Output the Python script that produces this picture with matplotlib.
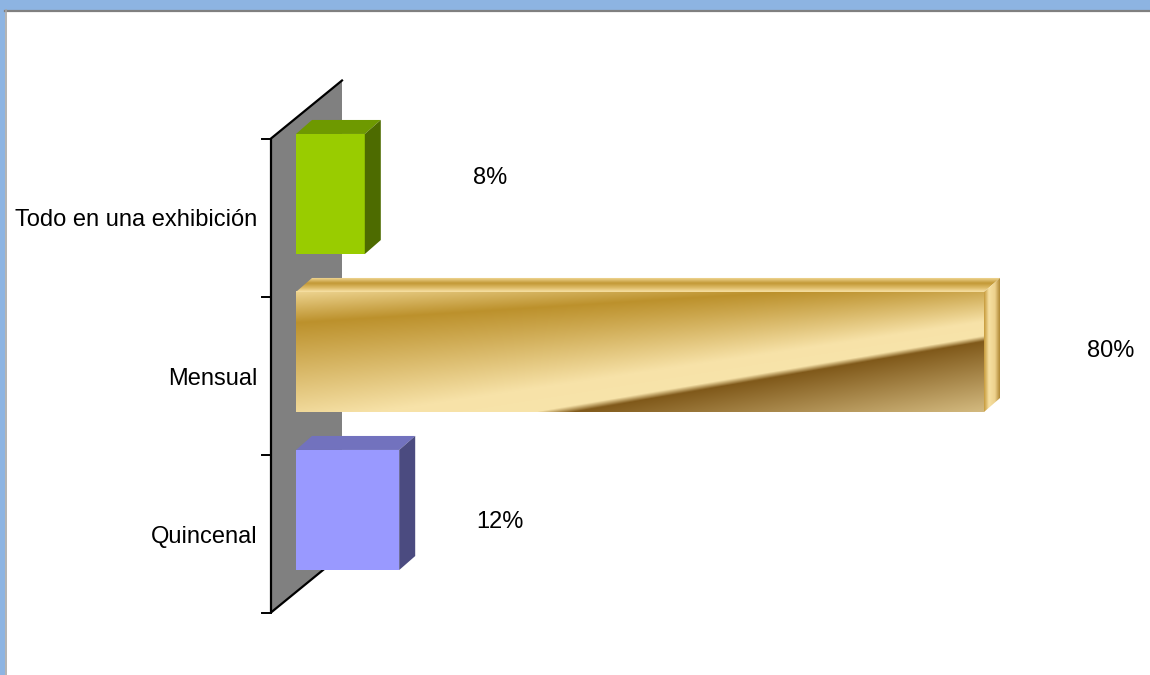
import matplotlib
matplotlib.use("Agg")
import matplotlib.pyplot as plt
import numpy as np
from matplotlib.patches import Polygon, Rectangle
from matplotlib.lines import Line2D
from matplotlib.colors import to_rgb

categories = ["Todo en una exhibición", "Mensual", "Quincenal"]
values = [8, 80, 12]
value_labels = ["8%", "80%", "12%"]

# faces: front, top, side ("gold" is drawn as a metallic texture)
bar_styles = [("#99CC00", "#6E9900", "#4D6B00"),
              "gold",
              ("#9999FF", "#7272BE", "#4B4B80")]

W, H = 1150, 675
PX_X = 8.6       # pixels per percent
PX_Y = 158.0     # pixels per category slot
X0_PX = 271      # front edge of the wall
Y0_PX = 217.5    # centre of first row on the front plane
BAR_H = 0.76
FONT = "Liberation Sans"
FSIZE = 17

# label offsets from the bar end, in pixels (right, up)
label_nudge = [(150, 39), (152, 24.5), (126, 12)]
CAT_DROP = 3     # category labels sit a little below the row centre

fig = plt.figure(figsize=(W / 100, H / 100), dpi=100)
ax = fig.add_axes([0, 0, 1, 1])
ax.set_xlim(-X0_PX / PX_X, (W - X0_PX) / PX_X)
ax.set_ylim((H - Y0_PX) / PX_Y, -Y0_PX / PX_Y)
ax.axis("off")


def px(dx, dy):
    # pixel offset (right, up) -> data offset
    return dx / PX_X, -dy / PX_Y


# window frame
fig.patches.append(Rectangle((0, 1 - 9.5 / H), 1, 9.5 / H, transform=fig.transFigure,
                             facecolor="#8DB4E2", edgecolor="none", zorder=10))
fig.patches.append(Rectangle((0, 0), 5 / W, 1, transform=fig.transFigure,
                             facecolor="#8DB4E2", edgecolor="none", zorder=10))
fig.lines.append(Line2D([5 / W, 1], [1 - 10.5 / H, 1 - 10.5 / H], transform=fig.transFigure,
                        color="#808080", lw=1.6, zorder=11))
fig.lines.append(Line2D([6 / W, 6 / W], [0, 1 - 10 / H], transform=fig.transFigure,
                        color="#A6A6A6", lw=1.2, zorder=11))

# back wall
n = len(categories)
wx, wy = px(71, 58)
y_top, y_bot = -0.5, n - 0.5
ax.add_patch(Polygon([(0, y_top), (wx, y_top + wy), (wx, y_bot + wy), (0, y_bot)],
                     closed=True, facecolor="#808080", edgecolor="none", zorder=1))
ax.plot([wx, 0, 0, wx], [y_top + wy, y_top, y_bot, y_bot + wy], color="black",
        lw=1.6, zorder=2, solid_joinstyle="miter")
tick = 9 / PX_X
for k in range(n + 1):
    ax.plot([-tick, 0], [k - 0.5, k - 0.5], color="black", lw=1.4, zorder=2)


def ramp(stops, t):
    pos = [s[0] for s in stops]
    cols = np.array([to_rgb(s[1]) for s in stops])
    return np.stack([np.interp(t, pos, cols[:, c]) for c in range(3)], axis=-1)


def gold_front(nx=700, ny=130):
    # each stop moves linearly from its left-edge to its right-edge height
    stops = [(-0.05, -0.40, "#F7E1A4"),
             (0.26, -0.10, "#BC912C"),
             (1.10, 0.25, "#F7E2A8"),
             (1.34, 0.37, "#F8E4AA"),
             (1.40, 0.415, "#80591A"),
             (2.03, 1.06, "#DCC48A")]
    cols = np.array([to_rgb(s[2]) for s in stops])
    t = np.linspace(0, 1, ny)
    img = np.zeros((ny, nx, 3))
    for j, u in enumerate(np.linspace(0, 1, nx)):
        pos = [a + (b - a) * u for a, b, _ in stops]
        for c in range(3):
            img[:, j, c] = np.interp(t, pos, cols[:, c])
    return img


fx, fy = px(25, 23.5)
bx, by = px(41, 37.5)

for i, (v, style) in enumerate(zip(values, bar_styles)):
    x0, x1 = fx, v + fx
    yt, yb = i - BAR_H / 2 + fy, i + BAR_H / 2 + fy
    top = [(x0, yt), (x1, yt), (v + bx, yt + by - fy), (bx, yt + by - fy)]
    side = [(x1, yt), (v + bx, yt + by - fy), (v + bx, yb + by - fy), (x1, yb)]
    if style == "gold":
        ax.imshow(gold_front(), extent=(x0, x1, yb, yt), origin="upper",
                  aspect="auto", interpolation="bilinear", zorder=3)
        for poly, img, ext in [
            (top, ramp([(0, "#F4DC9C"), (0.4, "#C29835"), (0.75, "#E0BE6C"), (1, "#F7E0A4")],
                       np.linspace(0, 1, 20))[:, None, :].repeat(50, axis=1),
             (x0, v + bx, yt, yt + by - fy)),
            (side, ramp([(0, "#C99E40"), (0.3, "#F6E0A2"), (0.7, "#EDD18C"), (1, "#B38D3A")],
                        np.linspace(0, 1, 20))[None, :, :].repeat(50, axis=0),
             (x1, v + bx, yb, yt + by - fy)),
        ]:
            clip = Polygon(poly, closed=True, transform=ax.transData)
            im = ax.imshow(img, extent=ext, origin="upper", aspect="auto",
                           interpolation="bilinear", zorder=3)
            im.set_clip_path(clip)
    else:
        front_c, top_c, side_c = style
        ax.add_patch(Rectangle((x0, yt), v, yb - yt, facecolor=front_c,
                               edgecolor="none", zorder=3))
        ax.add_patch(Polygon(top, closed=True, facecolor=top_c, edgecolor="none", zorder=3))
        ax.add_patch(Polygon(side, closed=True, facecolor=side_c, edgecolor="none", zorder=3))

    lx, ly = px(*label_nudge[i])
    ax.text(v + lx, i + ly, value_labels[i], ha="center", va="center",
            fontsize=FSIZE, family=FONT, color="black")
    ax.text(-14 / PX_X, i + CAT_DROP / PX_Y, categories[i], ha="right", va="center",
            fontsize=FSIZE, family=FONT, color="black")

ax.set_xlim(-X0_PX / PX_X, (W - X0_PX) / PX_X)
ax.set_ylim((H - Y0_PX) / PX_Y, -Y0_PX / PX_Y)

fig.savefig("out.png", dpi=100)
